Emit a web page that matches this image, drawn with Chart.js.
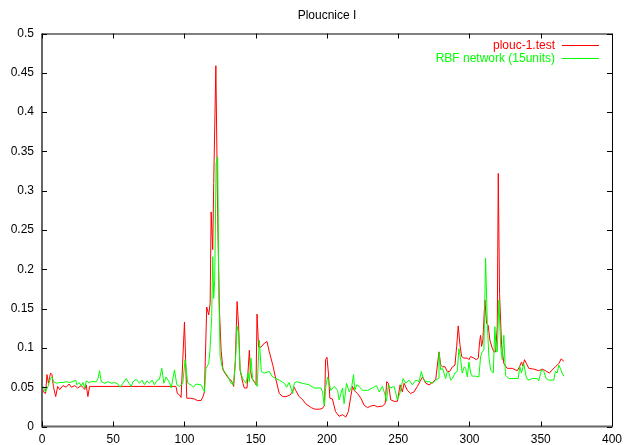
<!DOCTYPE html>
<html>
<head>
<meta charset="utf-8">
<script src="https://cdn.jsdelivr.net/npm/chart.js@4"></script>
<style>
  html, body { margin: 0; padding: 0; background: #fff; }
  canvas { display: block; }
</style>
</head>
<body>
<canvas id="chart" width="628" height="445"></canvas>
<script>
// Chart data
const chartTitle = 'Ploucnice I';
const seriesNames = ['plouc-1.test', 'RBF network (15units)'];
const seriesColors = ['#ff0000', '#00ff00'];

const xTicks = [0, 50, 100, 150, 200, 250, 300, 350, 400];
const yTicks = [0, 0.05, 0.1, 0.15, 0.2, 0.25, 0.3, 0.35, 0.4, 0.45, 0.5];

const redX = [0,1,2.5,3.5,4.5,6,7,8,9.6,11,12.4,14.7,17,19,20.6,23,25,27.6,30,31,32.2,33.4,94,95,96.5,97.6,100,101.6,104,107,109,111.6,113,114,115.6,117,118,118.7,119.3,119.8,120.5,122,123.3,124.5,125.7,127,129,131,132.6,133.8,134.5,135.7,136.9,138,139,141,142,143.9,145.5,146.2,147.4,149,150.2,150.9,152,153.7,156,157.9,159.5,162,164,166.5,169,171.2,174,175.7,177,178,180.5,183,185,189,191.5,194.5,196.8,198.3,199,200,201,202,203.8,206,208.5,211,213.2,215,216.7,217.9,219,221.4,223.8,226.1,228.5,230.8,233.1,235.4,238.9,240.8,241.9,243.1,244.7,247.1,249.4,251.3,252.9,254.1,256.4,258.7,261.1,263.4,265.8,267,269.3,271.6,274,276.3,278.6,279.8,281,282.8,284.4,286.1,288,289.8,291,292.1,293.3,294.5,296.1,298.5,299.6,300.8,303.1,304.8,306.2,307.1,307.8,308.5,309.4,310.8,312,313.1,314.3,315.9,317.1,318.3,319.5,320.2,321.1,322.5,324.1,326.5,330,333.5,335.1,336.5,337.5,338.6,340,341.6,345.1,348.6,351,353.3,356.1,358,360.3,362.7,364.3,366.2];
const redY = [.051,.044,.042,.066,.055,.068,.066,.051,.038,.051,.047,.052,.050,.054,.050,.052,.049,.052,.047,.053,.038,.051,.051,.042,.040,.037,.133,.036,.036,.035,.033,.033,.038,.044,.152,.142,.157,.273,.273,.225,.309,.459,.267,.148,.097,.072,.066,.061,.059,.055,.051,.085,.159,.127,.072,.055,.049,.049,.097,.072,.061,.057,.053,.143,.101,.101,.106,.108,.095,.078,.061,.042,.038,.038,.040,.044,.050,.046,.038,.034,.029,.024,.022,.022,.023,.027,.085,.088,.068,.036,.035,.019,.013,.015,.012,.019,.038,.051,.046,.042,.036,.027,.024,.026,.027,.025,.026,.029,.057,.055,.034,.032,.032,.053,.044,.055,.046,.042,.044,.051,.059,.063,.055,.053,.056,.060,.095,.078,.076,.076,.070,.070,.076,.078,.102,.128,.104,.089,.087,.087,.085,.089,.087,.085,.087,.108,.116,.102,.110,.161,.131,.129,.110,.100,.095,.095,.127,.322,.169,.104,.080,.074,.074,.071,.076,.082,.077,.085,.080,.074,.073,.071,.073,.071,.068,.072,.076,.080,.086,.083];

const greenX = [0,1.2,2.4,4.2,5.9,7,8.2,10.1,12.4,14.7,17.1,19.4,21.7,23.6,24.5,25.9,27.6,28.8,30,31.1,32.9,34.6,38.1,39.3,40.4,41.6,43.9,46.3,48.6,50.9,53.3,54.9,56.8,59.1,61,62.6,63.8,66.1,68.4,70.3,71.9,73.6,75.4,77.3,78.9,80.8,82.4,84.1,85.5,87.1,89.5,90.6,93,94.6,96.5,98.8,100.4,102.3,104.6,106.3,108.1,111.6,114,115.1,117,117.9,119.1,119.8,120.5,121.2,122.2,123.3,124,125,126.4,128,130.3,132.6,134.3,135.7,136.9,138,139,140.8,143.2,144.6,145.5,146.7,147.8,149.7,151,152.5,153.9,156,159.5,161.8,164.2,166.5,170.1,171.7,173.5,175.9,177,178.7,182.9,187.5,191,195.7,196.9,198,199.2,200.4,201.5,202.7,205.1,207.4,208.5,210.9,212,213.7,215.6,217.4,218.6,219.5,220.9,222.6,224.9,228.4,231.9,234.7,236.6,238.9,240.8,241.7,243.1,244.7,247.1,249.4,251.1,253.4,255.3,257.6,259.9,262.3,264.6,266.2,267.6,269.3,271.6,274,276.3,278.1,278.6,279.8,281,282.1,283.3,284.4,285.6,286.8,288,289.8,291.4,292.6,293.8,294.9,296.3,297.3,298.5,299.6,300.8,302,304.3,306.6,307.8,308.9,310.1,311.3,312.5,313.6,314.8,316.7,317.8,318.8,319.5,320.6,322,323,324.1,325.3,327.6,331.1,334.2,335.3,336.5,338.1,339.8,341.2,344,347.5,348.6,350.5,352.2,353.8,355.7,359.1,360.3,361.5,362.7,363.8,365,366.2];
const greenY = [.053,.049,.044,.051,.061,.063,.057,.055,.056,.056,.057,.056,.057,.059,.053,.056,.052,.056,.049,.058,.056,.057,.057,.061,.071,.057,.055,.057,.055,.056,.054,.050,.055,.061,.055,.051,.057,.060,.055,.059,.053,.058,.055,.059,.053,.059,.060,.074,.055,.063,.056,.049,.072,.053,.051,.055,.085,.055,.053,.050,.054,.053,.044,.074,.080,.097,.140,.216,.163,.186,.335,.343,.182,.089,.076,.070,.064,.055,.053,.080,.128,.118,.072,.061,.055,.068,.057,.087,.059,.055,.051,.110,.070,.068,.070,.063,.061,.059,.055,.050,.056,.042,.055,.057,.055,.053,.049,.049,.044,.027,.051,.063,.055,.046,.051,.046,.034,.049,.029,.055,.044,.051,.066,.046,.053,.051,.046,.046,.049,.052,.044,.051,.040,.032,.053,.049,.051,.034,.042,.061,.055,.059,.053,.059,.057,.070,.061,.057,.057,.055,.059,.061,.094,.072,.074,.068,.061,.070,.068,.059,.061,.068,.070,.099,.085,.068,.076,.074,.063,.082,.068,.064,.064,.063,.089,.095,.097,.214,.131,.089,.072,.068,.127,.095,.095,.161,.099,.085,.116,.065,.061,.061,.061,.076,.068,.080,.063,.059,.061,.061,.058,.072,.070,.061,.059,.059,.070,.068,.078,.074,.068,.064];

function toPoints(xs, ys) {
    return xs.map((x, i) => ({ x: x, y: ys[i] }));
}

const FONT = '12px "Liberation Sans", Arial, sans-serif';

// gnuplot-like frame: box border, inward ticks, title and key
const gnuplotFrame = {
    id: 'gnuplotFrame',
    afterDraw(chart) {
        const ctx = chart.ctx;
        const a = chart.chartArea;
        const xs = chart.scales.x;
        const ys = chart.scales.y;
        ctx.save();

        // border
        ctx.strokeStyle = '#000';
        ctx.lineWidth = 1;
        ctx.beginPath();
        ctx.moveTo(a.left, a.top + 0.5);
        ctx.lineTo(a.right + 0.5, a.top + 0.5);
        ctx.lineTo(a.right + 0.5, a.bottom);
        ctx.stroke();
        ctx.strokeStyle = '#666';
        ctx.lineWidth = 2;
        ctx.beginPath();
        ctx.moveTo(a.left, a.top);
        ctx.lineTo(a.left, a.bottom);
        ctx.lineTo(a.right + 1, a.bottom);
        ctx.stroke();

        // inward tick marks on all four sides
        ctx.strokeStyle = '#000';
        ctx.lineWidth = 1;
        ctx.beginPath();
        xTicks.forEach(v => {
            const px = Math.round(xs.getPixelForValue(v)) + 0.5;
            ctx.moveTo(px, a.bottom);
            ctx.lineTo(px, a.bottom - 5);
            ctx.moveTo(px, a.top);
            ctx.lineTo(px, a.top + 5);
        });
        yTicks.forEach(v => {
            const py = Math.round(ys.getPixelForValue(v)) + 0.5;
            ctx.moveTo(a.left, py);
            ctx.lineTo(a.left + 5, py);
            ctx.moveTo(a.right, py);
            ctx.lineTo(a.right - 5, py);
        });
        ctx.stroke();

        // title
        ctx.font = FONT;
        ctx.fillStyle = '#000';
        ctx.textAlign = 'center';
        ctx.textBaseline = 'alphabetic';
        ctx.fillText(chartTitle, (a.left + a.right) / 2, 19);

        // key
        chart.data.datasets.forEach((ds, i) => {
            const ly = 45 + i * 12.7;
            ctx.fillStyle = ds.borderColor;
            ctx.textAlign = 'right';
            ctx.fillText(ds.label, 555, ly + 4.3);
            ctx.strokeStyle = ds.borderColor;
            ctx.beginPath();
            ctx.moveTo(562, Math.round(ly) + 0.5);
            ctx.lineTo(599, Math.round(ly) + 0.5);
            ctx.stroke();
        });
        ctx.restore();
    }
};

const ctx = document.getElementById('chart').getContext('2d');
const chart = new Chart(ctx, {
    type: 'line',
    data: {
        datasets: [{
            label: seriesNames[0],
            data: toPoints(redX, redY),
            borderColor: seriesColors[0],
            borderWidth: 1,
            pointRadius: 0,
            tension: 0,
            order: 1
        }, {
            label: seriesNames[1],
            data: toPoints(greenX, greenY),
            borderColor: seriesColors[1],
            borderWidth: 1,
            pointRadius: 0,
            tension: 0,
            order: 0
        }]
    },
    options: {
        responsive: false,
        animation: false,
        layout: {
            padding: { left: 0, right: 15, top: 33.5, bottom: 0 }
        },
        plugins: {
            legend: { display: false },
            title: { display: false },
            tooltip: { enabled: false }
        },
        scales: {
            x: {
                type: 'linear',
                min: 0,
                max: 400,
                grid: { display: false, drawTicks: false },
                border: { display: false },
                afterBuildTicks: function(scale) {
                    scale.ticks = xTicks.map(v => ({ value: v }));
                },
                afterFit: function(scale) { scale.height = 18.5; },
                ticks: {
                    font: { family: '"Liberation Sans", Arial, sans-serif', size: 12 },
                    color: '#000',
                    padding: 6,
                    maxRotation: 0,
                    autoSkip: false
                }
            },
            y: {
                min: 0,
                max: 0.5,
                grid: { display: false, drawTicks: false },
                border: { display: false },
                afterBuildTicks: function(scale) {
                    scale.ticks = yTicks.map(v => ({ value: v }));
                },
                afterFit: function(scale) { scale.width = 42; },
                ticks: {
                    font: { family: '"Liberation Sans", Arial, sans-serif', size: 12 },
                    color: '#000',
                    padding: 8,
                    autoSkip: false,
                    callback: function(value) {
                        return String(+value.toFixed(2));
                    }
                }
            }
        }
    },
    plugins: [gnuplotFrame]
});
</script>
</body>
</html>
